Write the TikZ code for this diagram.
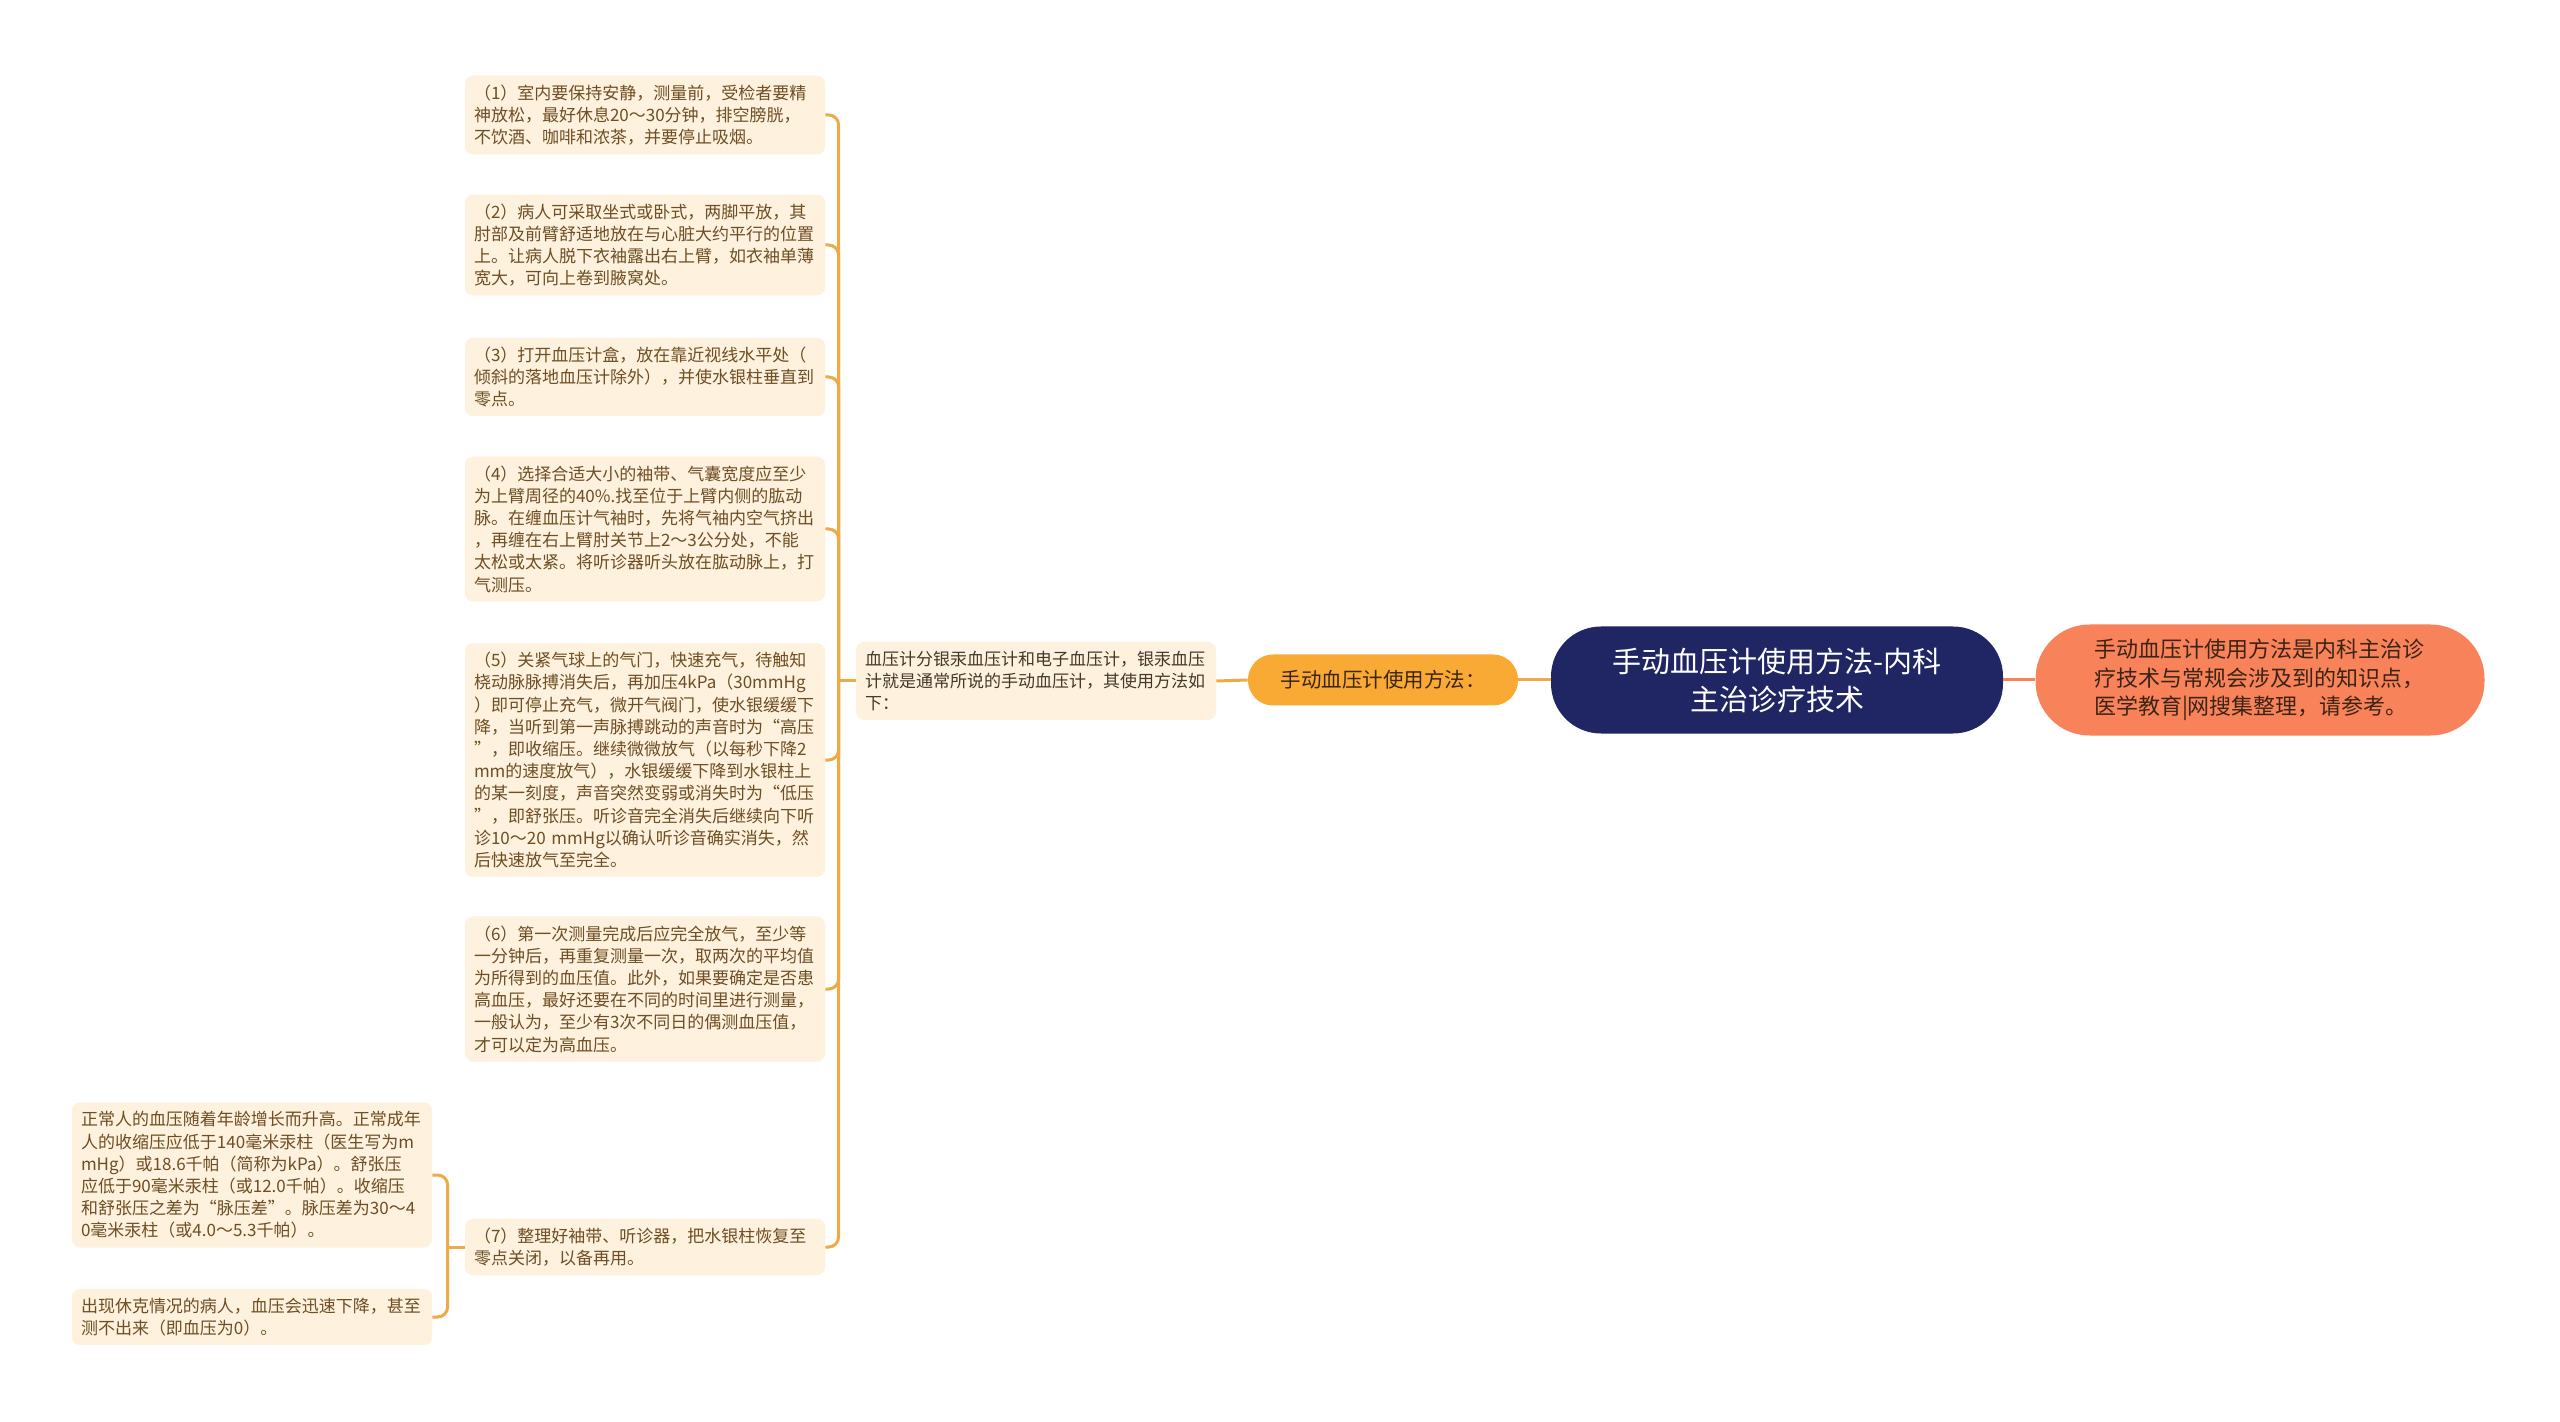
\documentclass[tikz,border=0pt]{standalone}
\usepackage{fontspec}
\setmainfont{Noto Sans CJK SC}
\usepackage{tikz}
\usetikzlibrary{calc}
\usetikzlibrary{positioning}

\definecolor{linkorange}{RGB}{238,170,70}
\definecolor{leaffill}{RGB}{254,241,222}
\definecolor{leaftext}{RGB}{110,78,34}
\definecolor{introtext}{RGB}{70,56,40}
\definecolor{rootnavy}{RGB}{32,37,99}
\definecolor{pillorange}{RGB}{249,170,52}
\definecolor{notesalmon}{RGB}{248,130,90}
\definecolor{notetext}{RGB}{60,36,20}

\begin{document}
\begin{tikzpicture}[
    x=0.5pt, y=-0.5pt,
    leafnode/.style={rectangle, rounded corners=4pt, fill=leaffill, text=leaftext, text width=171pt, align=left, inner xsep=4.5pt, inner ysep=4.5pt, font=\fontsize{8.5pt}{11.1pt}\selectfont},
    pillnode/.style={rectangle, rounded corners=12.5pt, fill=pillorange, text=notetext, minimum width=135pt, minimum height=25.5pt, font=\fontsize{10.25pt}{12pt}\selectfont},
    rootnode/.style={rectangle, rounded corners=25pt, fill=rootnavy, text=white, minimum width=226pt, minimum height=53.5pt, align=center, font=\fontsize{14.5pt}{19pt}\selectfont},
    notenode/.style={rectangle, rounded corners=27pt, fill=notesalmon, text=notetext, text width=166pt, minimum width=224.5pt, minimum height=55.5pt, align=left, font=\fontsize{11pt}{14.25pt}\selectfont},
    link/.style={draw=linkorange, line width=1.5pt, rounded corners=5pt}
]
    % Canvas
    \fill [white] (0, 0) rectangle (2560, 1422);
    \useasboundingbox (0, 0) rectangle (2560, 1422);

    % Centre of the map
    % - [Root and its note]
    \node at (1777, 680) [rootnode](root){手动血压计使用方法-内科\\主治诊疗技术};
    \node at (2260, 680) [notenode](note){手动血压计使用方法是内科主治诊\\疗技术与常规会涉及到的知识点，\\医学教育|网搜集整理，请参考。};
    % - [First branch]
    \node at (1383, 680) [pillnode](pill){手动血压计使用方法：};
    \node at (1036, 681) [leafnode, text=introtext](intro){血压计分银汞血压计和电子血压计，银汞血压\\计就是通常所说的手动血压计，其使用方法如\\下：};

    % The seven steps
    \node at (645, 115) [leafnode](step_1){（1）室内要保持安静，测量前，受检者要精\\神放松，最好休息20～30分钟，排空膀胱，\\不饮酒、咖啡和浓茶，并要停止吸烟。};
    \node at (645, 245) [leafnode](step_2){（2）病人可采取坐式或卧式，两脚平放，其\\肘部及前臂舒适地放在与心脏大约平行的位置\\上。让病人脱下衣袖露出右上臂，如衣袖单薄\\宽大，可向上卷到腋窝处。};
    \node at (645, 377) [leafnode](step_3){（3）打开血压计盒，放在靠近视线水平处（\\倾斜的落地血压计除外），并使水银柱垂直到\\零点。};
    \node at (645, 529) [leafnode](step_4){（4）选择合适大小的袖带、气囊宽度应至少\\为上臂周径的40\%.找至位于上臂内侧的肱动\\脉。在缠血压计气袖时，先将气袖内空气挤出\\，再缠在右上臂肘关节上2～3公分处，不能\\太松或太紧。将听诊器听头放在肱动脉上，打\\气测压。};
    \node at (645, 760) [leafnode](step_5){（5）关紧气球上的气门，快速充气，待触知\\桡动脉脉搏消失后，再加压4kPa（30mmHg\\）即可停止充气，微开气阀门，使水银缓缓下\\降，当听到第一声脉搏跳动的声音时为“高压\\”，即收缩压。继续微微放气（以每秒下降2\\mm的速度放气），水银缓缓下降到水银柱上\\的某一刻度，声音突然变弱或消失时为“低压\\”，即舒张压。听诊音完全消失后继续向下听\\诊10～20~mmHg以确认听诊音确实消失，然\\后快速放气至完全。};
    \node at (645, 989) [leafnode](step_6){（6）第一次测量完成后应完全放气，至少等\\一分钟后，再重复测量一次，取两次的平均值\\为所得到的血压值。此外，如果要确定是否患\\高血压，最好还要在不同的时间里进行测量，\\一般认为，至少有3次不同日的偶测血压值，\\才可以定为高血压。};
    \node at (645, 1247) [leafnode](step_7){（7）整理好袖带、听诊器，把水银柱恢复至\\零点关闭，以备再用。};

    % Notes on step 7
    \node at (252, 1175) [leafnode](sub_a){正常人的血压随着年龄增长而升高。正常成年\\人的收缩压应低于140毫米汞柱（医生写为m\\mHg）或18.6千帕（简称为kPa）。舒张压\\应低于90毫米汞柱（或12.0千帕）。收缩压\\和舒张压之差为“脉压差”。脉压差为30～4\\0毫米汞柱（或4.0～5.3千帕）。};
    \node at (252, 1317) [leafnode](sub_b){出现休克情况的病人，血压会迅速下降，甚至\\测不出来（即血压为0）。};

    % Connectors
    % - root to note and to the first branch
    \draw [link, draw=notesalmon] (root.east) -- (note.west);
    \draw [link] (root.west) -- (pill.east);
    \draw [link] (pill.west) -- (intro.east);
    % - bracket of the steps
    \coordinate (fork) at ($(intro.west)+(-17, 0)$);
    \draw [link] (intro.west) -- (fork);
    \foreach \n in {1,...,7}
        \draw [link] (fork) |- (step_\n.east);
    % - bracket of the notes
    \coordinate (subfork) at ($(step_7.west)+(-17, 0)$);
    \draw [link] (step_7.west) -- (subfork);
    \draw [link] (subfork) |- (sub_a.east);
    \draw [link] (subfork) |- (sub_b.east);

\end{tikzpicture}
\end{document}
